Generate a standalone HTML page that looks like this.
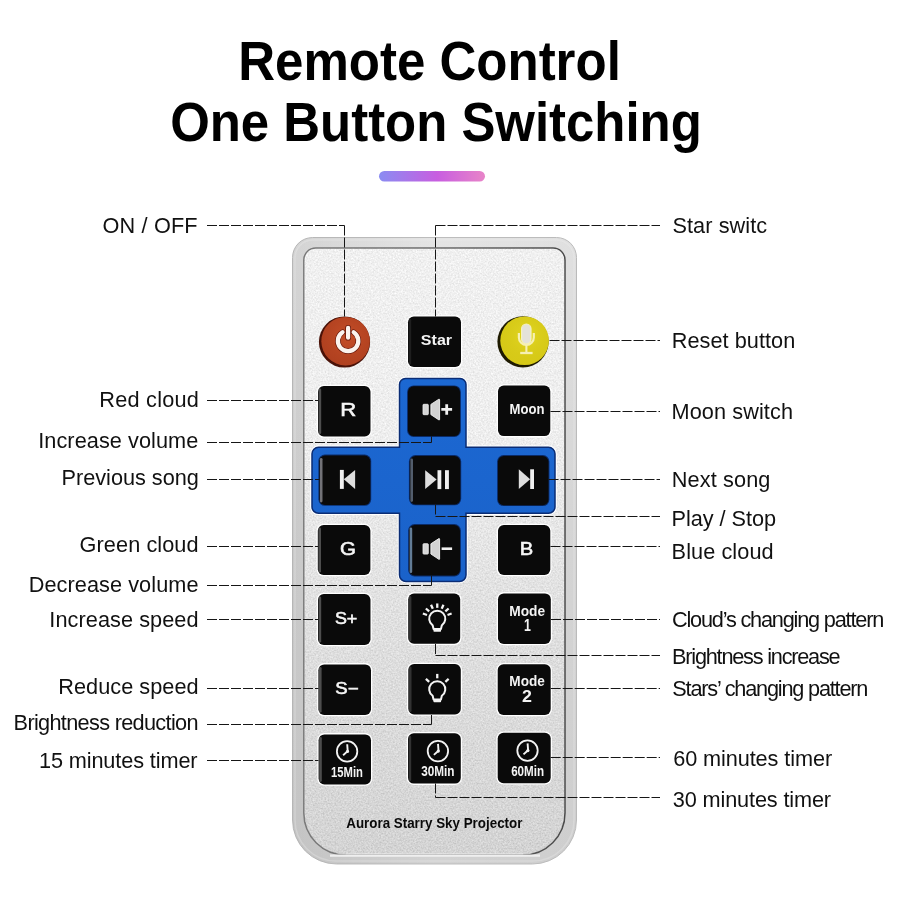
<!DOCTYPE html>
<html><head><meta charset="utf-8"><title>Remote Control</title>
<style>
html,body{margin:0;padding:0;background:#fff;}
body{width:900px;height:900px;overflow:hidden;}
svg{display:block;will-change:transform;}
text{font-family:"Liberation Sans", sans-serif;}
.title{font-weight:bold;fill:#000;}
.lab{fill:#111;}
.kt{font-weight:bold;fill:#f4f4f4;}
.kr{font-weight:normal;fill:#f6f6f6;stroke:#f6f6f6;stroke-width:0.55px;}
.brand{font-weight:bold;fill:#0a0a0a;}
.dl{stroke:#161616;stroke-width:1;stroke-dasharray:10 2;fill:none;}
</style></head>
<body>
<svg width="900" height="900" viewBox="0 0 900 900">
<defs>
<linearGradient id="grad" x1="0" x2="1" y1="0" y2="0">
<stop offset="0" stop-color="#8a8cf2"/><stop offset="0.55" stop-color="#c85ee0"/><stop offset="1" stop-color="#e884c8"/>
</linearGradient>
<linearGradient id="rim" x1="0" x2="0" y1="0" y2="1">
<stop offset="0" stop-color="#e4e4e4"/><stop offset="0.5" stop-color="#d8d8d8"/><stop offset="1" stop-color="#d2d2d2"/>
</linearGradient>
<linearGradient id="face" x1="0" x2="0" y1="0" y2="1">
<stop offset="0" stop-color="#f0f0f0"/><stop offset="0.3" stop-color="#eeeeee"/><stop offset="0.6" stop-color="#e0e0e0"/><stop offset="0.85" stop-color="#d8d8d8"/><stop offset="1" stop-color="#d3d3d3"/>
</linearGradient>
<linearGradient id="blue" x1="0" x2="0" y1="0" y2="1">
<stop offset="0" stop-color="#1c68d2"/><stop offset="1" stop-color="#1a62ca"/>
</linearGradient>
<radialGradient id="redhl" cx="0.55" cy="0.4" r="0.6">
<stop offset="0" stop-color="#d45a30" stop-opacity="0.35"/><stop offset="1" stop-color="#8a2a12" stop-opacity="0.25"/>
</radialGradient>
<radialGradient id="yelhl" cx="0.55" cy="0.4" r="0.6">
<stop offset="0" stop-color="#f2ea36" stop-opacity="0.35"/><stop offset="1" stop-color="#b0a000" stop-opacity="0.12"/>
</radialGradient>
<filter id="noise" x="0" y="0" width="100%" height="100%">
<feTurbulence type="fractalNoise" baseFrequency="0.6" numOctaves="3" seed="7" result="n"/>
<feColorMatrix in="n" type="matrix" values="1 0 0 0 0  1 0 0 0 0  1 0 0 0 0  0 0 0 0 1" result="g"/>
<feComposite in="SourceGraphic" in2="g" operator="arithmetic" k1="0" k2="1" k3="0.36" k4="-0.18" result="c"/>
<feComposite in="c" in2="SourceGraphic" operator="in"/>
</filter>
<linearGradient id="rimh" x1="0" x2="1" y1="0" y2="0">
<stop offset="0" stop-color="#000" stop-opacity="0.07"/><stop offset="0.5" stop-color="#000" stop-opacity="0"/><stop offset="1" stop-color="#000" stop-opacity="0.02"/>
</linearGradient>
<linearGradient id="fborder" x1="0" x2="1" y1="0" y2="0">
<stop offset="0" stop-color="#7a7a7a"/><stop offset="0.5" stop-color="#6a6a6a"/><stop offset="1" stop-color="#4a4a4a"/>
</linearGradient>
</defs>
<rect x="379" y="171" width="106" height="10.5" rx="5.25" fill="url(#grad)"/>
<path d="M312.5,237.5 H556.5 A20,20 0 0 1 576.5,257.5 V820 A44,44 0 0 1 532.5,864 H336.5 A44,44 0 0 1 292.5,820 V257.5 A20,20 0 0 1 312.5,237.5 Z" fill="url(#rim)" stroke="#bdbdbd" stroke-width="1"/>
<path d="M312.5,237.5 H556.5 A20,20 0 0 1 576.5,257.5 V820 A44,44 0 0 1 532.5,864 H336.5 A44,44 0 0 1 292.5,820 V257.5 A20,20 0 0 1 312.5,237.5 Z" fill="url(#rimh)"/>
<path d="M313,240 H556 A18,18 0 0 1 574,258 V820 A41,41 0 0 1 533,861 H336 A41,41 0 0 1 295,820 V258 A18,18 0 0 1 313,240 Z" fill="none" stroke="#ededed" stroke-width="1.5" opacity="0.3"/>
<path d="M315.8,248 H553 A12,12 0 0 1 565,260 V813 A42,42 0 0 1 523,855 H345.8 A42,42 0 0 1 303.8,813 V260 A12,12 0 0 1 315.8,248 Z" fill="url(#face)" stroke="url(#fborder)" stroke-width="1.5"/>
<path d="M315.8,248.8 H553.0 A11.2,11.2 0 0 1 564.2,260.0 V813.0 A41.2,41.2 0 0 1 523.0,854.2 H345.8 A41.2,41.2 0 0 1 304.6,813.0 V260.0 A11.2,11.2 0 0 1 315.8,248.8 Z" fill="url(#face)" filter="url(#noise)"/>
<path d="M330,855.6 H540" stroke="#efefef" stroke-width="2.2"/>
<path d="M346,853.8 H523" stroke="#e9e9e9" stroke-width="1" opacity="0.8"/>
<path d="M399.5,384.5 A6,6 0 0 1 405.5,378.5 H460 A6,6 0 0 1 466,384.5 V447.3 H548.5 A6.5,6.5 0 0 1 555,453.8 V506.8 A6.5,6.5 0 0 1 548.5,513.3 H466 V575 A6.5,6.5 0 0 1 459.5,581.5 H406 A6.5,6.5 0 0 1 399.5,575 V513.3 H318.5 A6.5,6.5 0 0 1 312,506.8 V453.8 A6.5,6.5 0 0 1 318.5,447.3 H399.5 Z" fill="none" stroke="#ffffff" stroke-width="3.6"/>
<path d="M399.5,384.5 A6,6 0 0 1 405.5,378.5 H460 A6,6 0 0 1 466,384.5 V447.3 H548.5 A6.5,6.5 0 0 1 555,453.8 V506.8 A6.5,6.5 0 0 1 548.5,513.3 H466 V575 A6.5,6.5 0 0 1 459.5,581.5 H406 A6.5,6.5 0 0 1 399.5,575 V513.3 H318.5 A6.5,6.5 0 0 1 312,506.8 V453.8 A6.5,6.5 0 0 1 318.5,447.3 H399.5 Z" fill="url(#blue)" stroke="#0a2c74" stroke-width="1.5"/>
<circle cx="344.5" cy="342" r="25.6" fill="#4a1208"/>
<circle cx="345.6" cy="341.2" r="24.2" fill="#bd4824"/>
<circle cx="345.6" cy="341.2" r="24.2" fill="url(#redhl)"/>
<path d="M342.52,332.25 A10.25,10.25 0 1 0 353.68,332.25" fill="none" stroke="#6a1a0c" stroke-width="5.6" stroke-linecap="round"/>
<line x1="348.1" y1="327.8" x2="348.1" y2="337.7" stroke="#6a1a0c" stroke-width="5.8" stroke-linecap="round"/>
<path d="M342.52,332.25 A10.25,10.25 0 1 0 353.68,332.25" fill="none" stroke="#fbf3ee" stroke-width="4.2" stroke-linecap="round"/>
<line x1="348.1" y1="327.8" x2="348.1" y2="337.7" stroke="#fbf3ee" stroke-width="4.2" stroke-linecap="round"/>
<rect x="406.7" y="315.2" width="55.6" height="53.1" rx="7" fill="#ffffff"/>
<rect x="408" y="316.5" width="53" height="50.5" rx="5.8" fill="#0a0a0a"/>
<rect x="408.6" y="319.0" width="2.6" height="45.5" rx="1.3" fill="#7a7a7a" opacity="0.18"/>
<circle cx="523" cy="341.8" r="25.6" fill="#1e1a00"/>
<circle cx="524.6" cy="340.8" r="24.3" fill="#dccf1a"/>
<circle cx="524.6" cy="340.8" r="24.3" fill="url(#yelhl)"/>
<rect x="521.6" y="324" width="9.4" height="20" rx="4.7" fill="#e4e2da" stroke="#f6f2c0" stroke-width="1.2"/>
<path d="M518.9,333 V337.5 A7.4,7.4 0 0 0 533.8,337.5 V333" fill="none" stroke="#f6f0b4" stroke-width="2.2"/>
<line x1="526.4" y1="345" x2="526.4" y2="352.3" stroke="#f6f0b4" stroke-width="2.1"/>
<line x1="520.2" y1="353" x2="532.6" y2="353" stroke="#f6f0b4" stroke-width="2.3"/>
<rect x="316.7" y="384.7" width="55.1" height="53.1" rx="7" fill="#ffffff"/>
<rect x="318" y="386" width="52.5" height="50.5" rx="5.8" fill="#0a0a0a"/>
<rect x="318.6" y="388.5" width="2.6" height="45.5" rx="1.3" fill="#7a7a7a" opacity="0.60"/>
<rect x="407.1" y="385.40000000000003" width="53.8" height="51.599999999999994" rx="6.5" fill="#0a2a66"/>
<rect x="408" y="386.3" width="52" height="49.8" rx="5.8" fill="#0a0a0a"/>
<rect x="423" y="404.3" width="5.3" height="10.4" rx="0.8" fill="#d6d6d6" stroke="#f4f4f4" stroke-width="0.8"/>
<path d="M430.9,404.4 L438.9,399.2 Q439.6,399 439.6,399.8 V419.4 Q439.6,420.2 438.9,419.9 L430.9,414.6 Z" fill="#d2d2d2" stroke="#f4f4f4" stroke-width="0.9" stroke-linejoin="round"/>
<path d="M441.3,409.4 H452.1 M446.7,404.2 V414.8" stroke="#f0f0f0" stroke-width="2.8"/>
<rect x="496.7" y="384.3" width="54.9" height="53.1" rx="7" fill="#ffffff"/>
<rect x="498" y="385.6" width="52.3" height="50.5" rx="5.8" fill="#0a0a0a"/>
<rect x="318.40000000000003" y="454.6" width="52.8" height="51.199999999999996" rx="6.5" fill="#0a2a66"/>
<rect x="319.3" y="455.5" width="51" height="49.4" rx="5.8" fill="#0a0a0a"/>
<rect x="319.90000000000003" y="458.0" width="2.6" height="44.4" rx="1.3" fill="#b8b8c0" opacity="0.60"/>
<rect x="339.9" y="469.9" width="3.9" height="19" fill="#f0f0f0"/>
<path d="M355.1,469.9 V488.9 L343.8,479.3 Z" fill="#dedede"/>
<rect x="408.90000000000003" y="455.1" width="52.3" height="50.199999999999996" rx="6.5" fill="#0a2a66"/>
<rect x="409.8" y="456" width="50.5" height="48.4" rx="5.8" fill="#0a0a0a"/>
<rect x="410.40000000000003" y="458.5" width="2.6" height="43.4" rx="1.3" fill="#a0b8d8" opacity="0.48"/>
<path d="M425.2,470.2 V489.1 L436.6,479.6 Z" fill="#dedede"/>
<rect x="437.5" y="470.2" width="3.8" height="18.9" fill="#f0f0f0"/>
<rect x="445" y="470.2" width="3.9" height="18.9" fill="#f0f0f0"/>
<rect x="497.1" y="455.1" width="52.3" height="51.0" rx="6.5" fill="#0a2a66"/>
<rect x="498" y="456" width="50.5" height="49.2" rx="5.8" fill="#0a0a0a"/>
<path d="M518.8,469.3 V489 L530.2,479.2 Z" fill="#dedede"/>
<rect x="530.2" y="469.3" width="3.8" height="19.7" fill="#f0f0f0"/>
<rect x="316.5" y="523.7" width="55.2" height="52.6" rx="7" fill="#ffffff"/>
<rect x="317.8" y="525" width="52.6" height="50" rx="5.8" fill="#0a0a0a"/>
<rect x="318.40000000000003" y="527.5" width="2.6" height="45" rx="1.3" fill="#7a7a7a" opacity="0.60"/>
<rect x="408.1" y="524.1" width="52.8" height="52.3" rx="6.5" fill="#0a2a66"/>
<rect x="409" y="525" width="51" height="50.5" rx="5.8" fill="#0a0a0a"/>
<rect x="409.6" y="527.5" width="2.6" height="45.5" rx="1.3" fill="#9cc8f4" opacity="0.60"/>
<rect x="423" y="543.7" width="5.3" height="10.4" rx="0.8" fill="#d6d6d6" stroke="#f4f4f4" stroke-width="0.8"/>
<path d="M430.9,543.8 L438.9,538.6 Q439.6,538.4 439.6,539.2 V558.8 Q439.6,559.6 438.9,559.3 L430.9,554.0 Z" fill="#d2d2d2" stroke="#f4f4f4" stroke-width="0.9" stroke-linejoin="round"/>
<path d="M441.6,548.7 H452.1" stroke="#f0f0f0" stroke-width="2.6"/>
<rect x="496.7" y="523.7" width="54.9" height="52.6" rx="7" fill="#ffffff"/>
<rect x="498" y="525" width="52.3" height="50" rx="5.8" fill="#0a0a0a"/>
<rect x="316.7" y="592.7" width="55.1" height="53.6" rx="7" fill="#ffffff"/>
<rect x="318" y="594" width="52.5" height="51" rx="5.8" fill="#0a0a0a"/>
<rect x="318.6" y="596.5" width="2.6" height="46" rx="1.3" fill="#7a7a7a" opacity="0.60"/>
<rect x="406.9" y="592.3000000000001" width="54.6" height="52.800000000000004" rx="7" fill="#ffffff"/>
<rect x="408.2" y="593.6" width="52" height="50.2" rx="5.8" fill="#0a0a0a"/>
<rect x="408.8" y="596.1" width="2.6" height="45.2" rx="1.3" fill="#7a7a7a" opacity="0.36"/>
<path d="M433.55,629.05 L432.65,625.35 A8.05,8.05 0 1 1 441.85,625.35 L440.95,629.05 Z" fill="none" stroke="#f4f4f4" stroke-width="2" stroke-linejoin="round"/>
<rect x="433.45" y="629.05" width="7.6" height="2.8" rx="0.8" fill="#f4f4f4"/>
<line x1="437.25" y1="607.85" x2="437.25" y2="603.45" stroke="#f4f4f4" stroke-width="2.3"/>
<line x1="432.82" y1="608.79" x2="431.03" y2="604.77" stroke="#f4f4f4" stroke-width="2.3"/>
<line x1="441.68" y1="608.79" x2="443.47" y2="604.77" stroke="#f4f4f4" stroke-width="2.3"/>
<line x1="429.15" y1="611.46" x2="425.88" y2="608.51" stroke="#f4f4f4" stroke-width="2.3"/>
<line x1="445.35" y1="611.46" x2="448.62" y2="608.51" stroke="#f4f4f4" stroke-width="2.3"/>
<line x1="427.01" y1="615.02" x2="422.87" y2="613.52" stroke="#f4f4f4" stroke-width="2.3"/>
<line x1="447.49" y1="615.02" x2="451.63" y2="613.52" stroke="#f4f4f4" stroke-width="2.3"/>
<rect x="496.7" y="592.1" width="55.4" height="53.2" rx="7" fill="#ffffff"/>
<rect x="498" y="593.4" width="52.8" height="50.6" rx="5.8" fill="#0a0a0a"/>
<rect x="317.09999999999997" y="663.1" width="55.2" height="53.2" rx="7" fill="#ffffff"/>
<rect x="318.4" y="664.4" width="52.6" height="50.6" rx="5.8" fill="#0a0a0a"/>
<rect x="319.0" y="666.9" width="2.6" height="45.6" rx="1.3" fill="#7a7a7a" opacity="0.60"/>
<rect x="407.0" y="662.7" width="55.1" height="53.1" rx="7" fill="#ffffff"/>
<rect x="408.3" y="664" width="52.5" height="50.5" rx="5.8" fill="#0a0a0a"/>
<rect x="408.90000000000003" y="666.5" width="2.6" height="45.5" rx="1.3" fill="#7a7a7a" opacity="0.36"/>
<path d="M433.55,699.50 L432.65,695.80 A8.05,8.05 0 1 1 441.85,695.80 L440.95,699.50 Z" fill="none" stroke="#f4f4f4" stroke-width="2" stroke-linejoin="round"/>
<rect x="433.45" y="699.50" width="7.6" height="2.8" rx="0.8" fill="#f4f4f4"/>
<line x1="437.25" y1="678.30" x2="437.25" y2="673.90" stroke="#f4f4f4" stroke-width="2.3"/>
<line x1="429.15" y1="681.91" x2="425.88" y2="678.96" stroke="#f4f4f4" stroke-width="2.3"/>
<line x1="445.35" y1="681.91" x2="448.62" y2="678.96" stroke="#f4f4f4" stroke-width="2.3"/>
<rect x="496.4" y="662.9000000000001" width="55.6" height="53.300000000000004" rx="7" fill="#ffffff"/>
<rect x="497.7" y="664.2" width="53" height="50.7" rx="5.8" fill="#0a0a0a"/>
<rect x="317.3" y="733.1" width="55.0" height="52.6" rx="7" fill="#ffffff"/>
<rect x="318.6" y="734.4" width="52.4" height="50" rx="5.8" fill="#0a0a0a"/>
<rect x="319.20000000000005" y="736.9" width="2.6" height="45" rx="1.3" fill="#7a7a7a" opacity="0.60"/>
<circle cx="347.1" cy="751.4" r="10.2" fill="none" stroke="#f4f4f4" stroke-width="1.8"/>
<path d="M347.20000000000005,744.1999999999999 L347.70000000000005,751.1 L343.1,755.1999999999999" fill="none" stroke="#f4f4f4" stroke-width="1.9" stroke-linejoin="round"/>
<circle cx="347.5" cy="751.4" r="1.6" fill="#f4f4f4"/>
<rect x="406.7" y="731.9000000000001" width="55.4" height="53.0" rx="7" fill="#ffffff"/>
<rect x="408" y="733.2" width="52.8" height="50.4" rx="5.8" fill="#0a0a0a"/>
<rect x="408.6" y="735.7" width="2.6" height="45.4" rx="1.3" fill="#7a7a7a" opacity="0.36"/>
<circle cx="437.9" cy="751.1" r="10.2" fill="none" stroke="#f4f4f4" stroke-width="1.8"/>
<path d="M438.0,743.9 L438.5,750.8000000000001 L433.9,754.9" fill="none" stroke="#f4f4f4" stroke-width="1.9" stroke-linejoin="round"/>
<circle cx="438.29999999999995" cy="751.1" r="1.6" fill="#f4f4f4"/>
<rect x="496.4" y="731.4000000000001" width="55.6" height="53.2" rx="7" fill="#ffffff"/>
<rect x="497.7" y="732.7" width="53" height="50.6" rx="5.8" fill="#0a0a0a"/>
<circle cx="527.5" cy="750.6" r="10.2" fill="none" stroke="#f4f4f4" stroke-width="1.8"/>
<path d="M527.6,743.4 L528.1,750.3000000000001 L523.5,754.4" fill="none" stroke="#f4f4f4" stroke-width="1.9" stroke-linejoin="round"/>
<circle cx="527.9" cy="750.6" r="1.6" fill="#f4f4f4"/>
<text x="238.18" y="80.3" class="title" font-size="56" textLength="382.64" lengthAdjust="spacingAndGlyphs">Remote Control</text>
<text x="170.18" y="140.5" class="title" font-size="56" textLength="531.62" lengthAdjust="spacingAndGlyphs">One Button Switching</text>
<text x="420.88" y="345.1" class="kt" font-size="14.7" textLength="31.20" lengthAdjust="spacingAndGlyphs">Star</text>
<text x="340.36" y="415.9" class="kr" font-size="17.6" textLength="16.00" lengthAdjust="spacingAndGlyphs">R</text>
<text x="509.61" y="414.1" class="kt" font-size="15.3" textLength="34.93" lengthAdjust="spacingAndGlyphs">Moon</text>
<text x="340.11" y="554.8" class="kr" font-size="17.5" textLength="15.94" lengthAdjust="spacingAndGlyphs">G</text>
<text x="519.87" y="554.8" class="kr" font-size="17.5" textLength="13.49" lengthAdjust="spacingAndGlyphs">B</text>
<text x="334.93" y="624.1" class="kr" font-size="16" textLength="22.38" lengthAdjust="spacingAndGlyphs">S+</text>
<text x="335.30" y="693.9" class="kr" font-size="16" textLength="23.17" lengthAdjust="spacingAndGlyphs">S−</text>
<text x="509.22" y="615.75" class="kt" font-size="15" textLength="35.85" lengthAdjust="spacingAndGlyphs">Mode</text>
<text x="523.95" y="630.5" class="kt" font-size="15.8" textLength="6.88" lengthAdjust="spacingAndGlyphs">1</text>
<text x="509.35" y="686" class="kt" font-size="15" textLength="35.49" lengthAdjust="spacingAndGlyphs">Mode</text>
<text x="522.11" y="701.6" class="kt" font-size="15.8" textLength="9.93" lengthAdjust="spacingAndGlyphs">2</text>
<text x="331.01" y="776.8" class="kt" font-size="14" textLength="31.89" lengthAdjust="spacingAndGlyphs">15Min</text>
<text x="421.16" y="775.75" class="kt" font-size="14" textLength="33.35" lengthAdjust="spacingAndGlyphs">30Min</text>
<text x="511.17" y="775.5" class="kt" font-size="14" textLength="32.96" lengthAdjust="spacingAndGlyphs">60Min</text>
<text x="346.23" y="828" class="brand" font-size="14.6" textLength="176.20" lengthAdjust="spacingAndGlyphs">Aurora Starry Sky Projector</text>
<text x="102.60" y="233.3" class="lab" font-size="21.7" textLength="94.92" lengthAdjust="spacing">ON / OFF</text>
<text x="99.31" y="406.5" class="lab" font-size="21.7" textLength="99.52" lengthAdjust="spacing">Red cloud</text>
<text x="38.26" y="447.6" class="lab" font-size="21.7" textLength="159.97" lengthAdjust="spacing">Increase volume</text>
<text x="61.59" y="484.9" class="lab" font-size="21.7" textLength="137.24" lengthAdjust="spacing">Previous song</text>
<text x="79.59" y="552.2" class="lab" font-size="21.7" textLength="118.98" lengthAdjust="spacing">Green cloud</text>
<text x="28.63" y="592.2" class="lab" font-size="21.7" textLength="169.88" lengthAdjust="spacing">Decrease volume</text>
<text x="49.30" y="626.6" class="lab" font-size="21.7" textLength="149.25" lengthAdjust="spacing">Increase speed</text>
<text x="58.32" y="694.0" class="lab" font-size="21.7" textLength="140.21" lengthAdjust="spacing">Reduce speed</text>
<text x="13.60" y="730.4" class="lab" font-size="21.7" textLength="184.87" lengthAdjust="spacing">Brightness reduction</text>
<text x="38.94" y="768.2" class="lab" font-size="21.7" textLength="158.63" lengthAdjust="spacing">15 minutes timer</text>
<text x="672.45" y="233.1" class="lab" font-size="21.7" textLength="94.70" lengthAdjust="spacing">Star switc</text>
<text x="671.82" y="347.6" class="lab" font-size="21.7" textLength="123.39" lengthAdjust="spacing">Reset button</text>
<text x="671.52" y="419.4" class="lab" font-size="21.7" textLength="121.47" lengthAdjust="spacing">Moon switch</text>
<text x="671.79" y="487.2" class="lab" font-size="21.7" textLength="98.60" lengthAdjust="spacing">Next song</text>
<text x="671.50" y="526.1" class="lab" font-size="21.7" textLength="104.53" lengthAdjust="spacing">Play / Stop</text>
<text x="671.60" y="559.3" class="lab" font-size="21.7" textLength="101.98" lengthAdjust="spacing">Blue cloud</text>
<text x="671.89" y="627.0" class="lab" font-size="21.7" textLength="212.39" lengthAdjust="spacing">Cloud’s changing pattern</text>
<text x="672.03" y="664.1" class="lab" font-size="21.7" textLength="168.62" lengthAdjust="spacing">Brightness increase</text>
<text x="672.33" y="696.0" class="lab" font-size="21.7" textLength="196.07" lengthAdjust="spacing">Stars’ changing pattern</text>
<text x="673.17" y="766.2" class="lab" font-size="21.7" textLength="158.94" lengthAdjust="spacing">60 minutes timer</text>
<text x="672.82" y="807.1" class="lab" font-size="21.7" textLength="158.26" lengthAdjust="spacing">30 minutes timer</text>
<line x1="207" y1="225.5" x2="344.5" y2="225.5" class="dl"/>
<line x1="344.5" y1="225.5" x2="344.5" y2="316.5" class="dl"/>
<line x1="207" y1="400.5" x2="318" y2="400.5" class="dl"/>
<line x1="207" y1="442.5" x2="431.5" y2="442.5" class="dl"/>
<line x1="431.5" y1="442.5" x2="431.5" y2="436.5" class="dl"/>
<line x1="207" y1="479.5" x2="319.5" y2="479.5" class="dl"/>
<line x1="207" y1="546.5" x2="318" y2="546.5" class="dl"/>
<line x1="207" y1="585.5" x2="431.5" y2="585.5" class="dl"/>
<line x1="431.5" y1="585.5" x2="431.5" y2="574" class="dl"/>
<line x1="207" y1="619.5" x2="318" y2="619.5" class="dl"/>
<line x1="207" y1="688.5" x2="318.5" y2="688.5" class="dl"/>
<line x1="207" y1="724.5" x2="431.5" y2="724.5" class="dl"/>
<line x1="431.5" y1="724.5" x2="431.5" y2="715" class="dl"/>
<line x1="207" y1="760.5" x2="318.5" y2="760.5" class="dl"/>
<line x1="435.5" y1="225.5" x2="435.5" y2="316.5" class="dl"/>
<line x1="435.5" y1="225.5" x2="660" y2="225.5" class="dl"/>
<line x1="549.5" y1="340.5" x2="660" y2="340.5" class="dl"/>
<line x1="550.5" y1="411.5" x2="660" y2="411.5" class="dl"/>
<line x1="548.5" y1="479.5" x2="660" y2="479.5" class="dl"/>
<line x1="435.5" y1="504.5" x2="435.5" y2="516.5" class="dl"/>
<line x1="435.5" y1="516.5" x2="660" y2="516.5" class="dl"/>
<line x1="550.5" y1="546.5" x2="660" y2="546.5" class="dl"/>
<line x1="551" y1="619.5" x2="660" y2="619.5" class="dl"/>
<line x1="435.5" y1="644" x2="435.5" y2="655.5" class="dl"/>
<line x1="435.5" y1="655.5" x2="660" y2="655.5" class="dl"/>
<line x1="550.7" y1="688.5" x2="660" y2="688.5" class="dl"/>
<line x1="550.7" y1="757.5" x2="660" y2="757.5" class="dl"/>
<line x1="435.5" y1="783.5" x2="435.5" y2="797.5" class="dl"/>
<line x1="435.5" y1="797.5" x2="660" y2="797.5" class="dl"/>
</svg>
</body></html>
